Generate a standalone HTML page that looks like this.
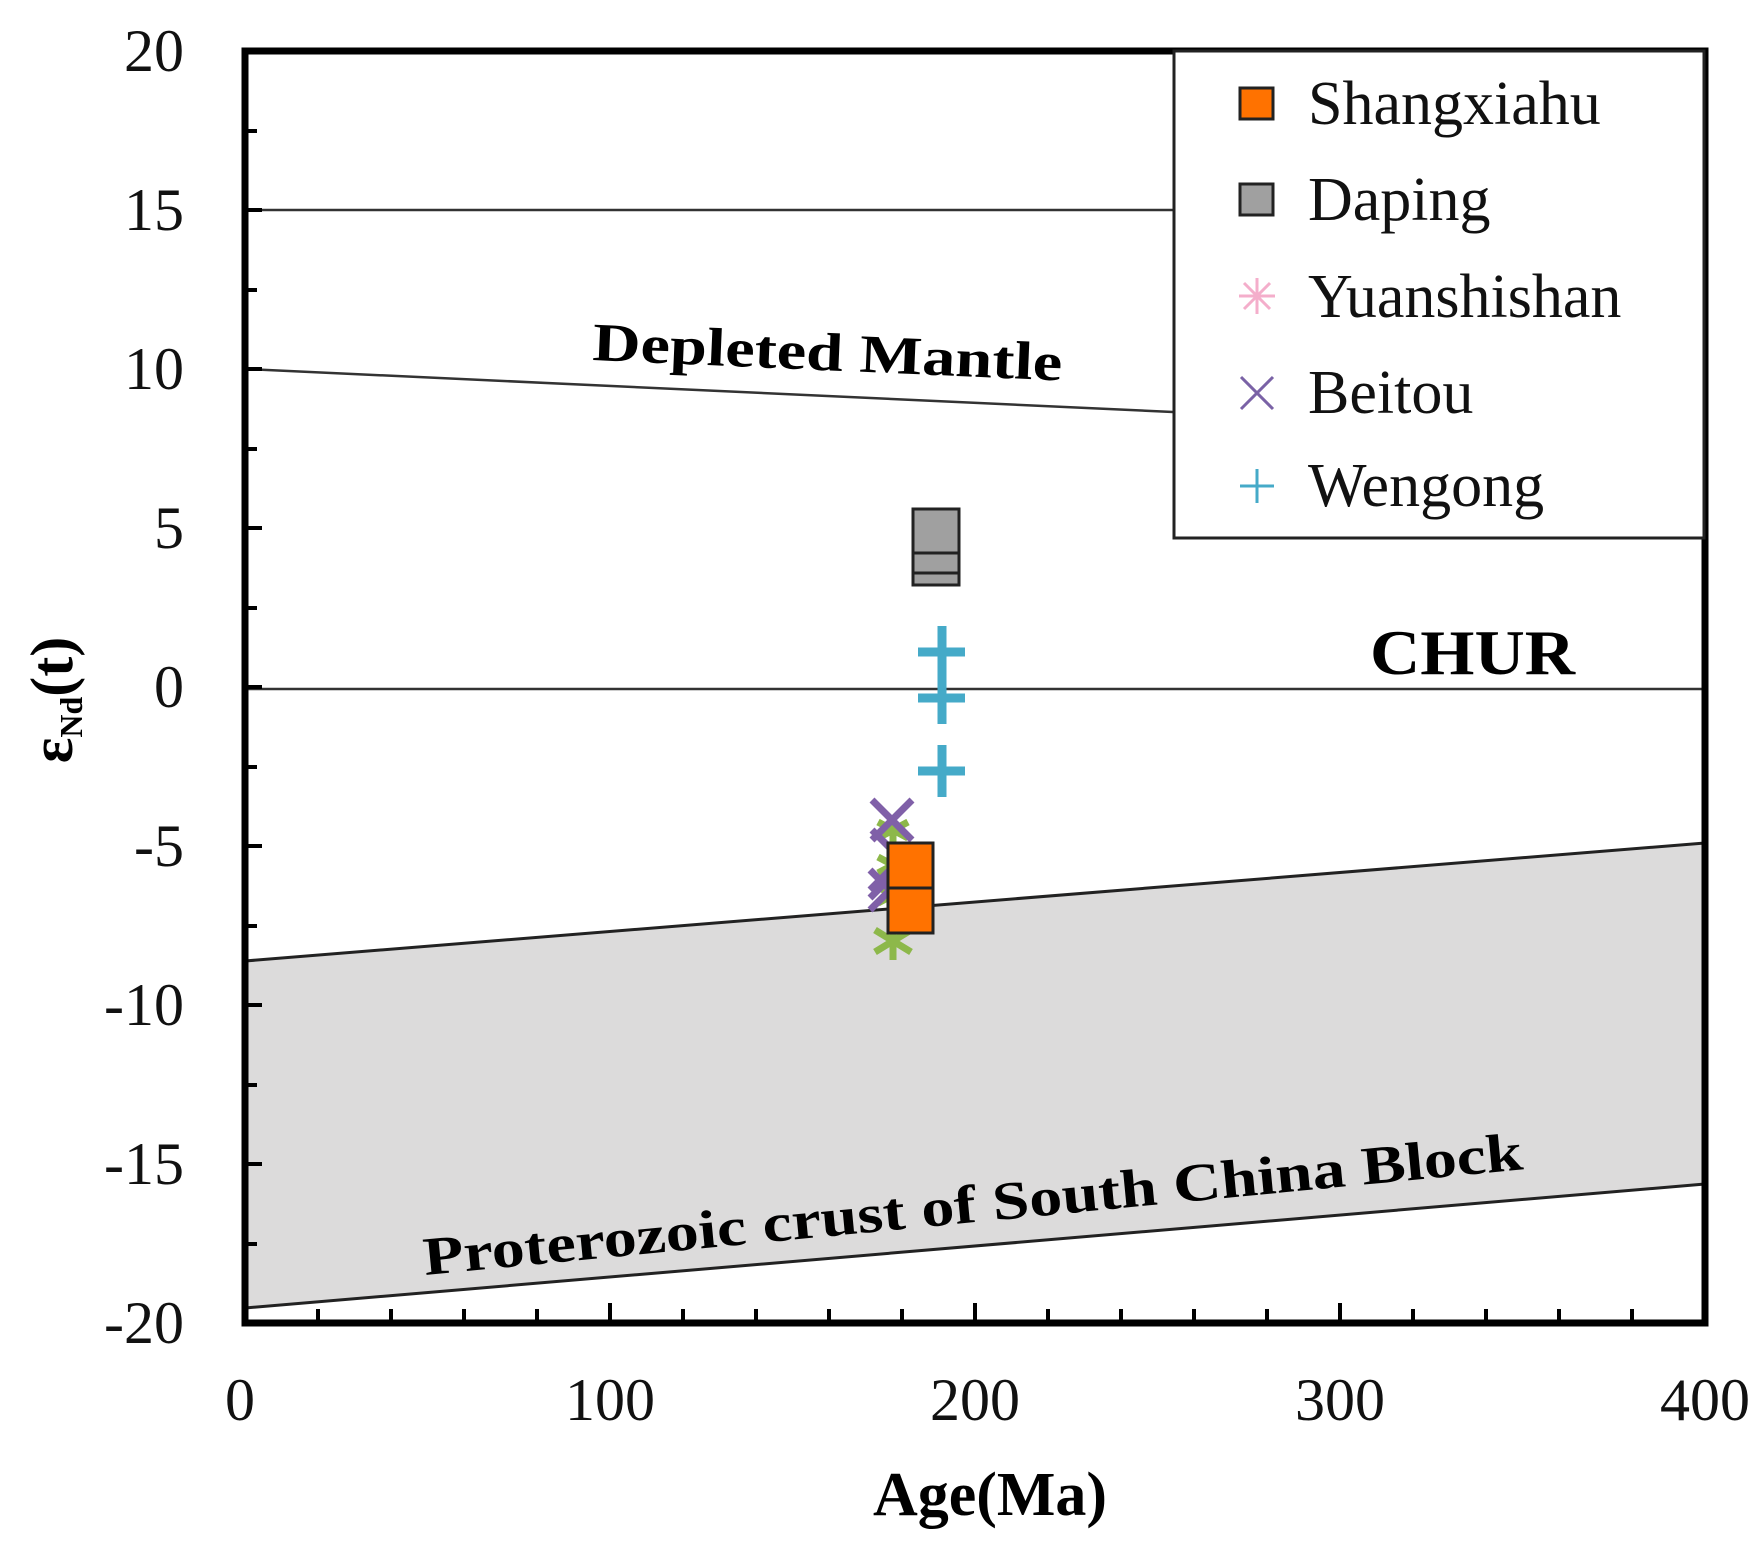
<!DOCTYPE html>
<html><head><meta charset="utf-8"><style>body{margin:0;background:#fff}svg{display:block}</style></head>
<body>
<svg width="1764" height="1542" viewBox="0 0 1764 1542" xmlns="http://www.w3.org/2000/svg" font-family="Liberation Serif, serif">
<polygon points="245,961 1705,843 1705,1184 245,1308" fill="#dcdbdb"/>
<line x1="245" y1="961" x2="1705" y2="843" stroke="#222" stroke-width="3"/>
<line x1="245" y1="1308" x2="1705" y2="1184" stroke="#222" stroke-width="3"/>
<line x1="245" y1="210" x2="1173" y2="210" stroke="#333" stroke-width="2.5"/>
<line x1="245" y1="369" x2="1173" y2="412" stroke="#333" stroke-width="2.5"/>
<line x1="245" y1="689" x2="1705" y2="689" stroke="#333" stroke-width="2.5"/>
<g stroke="#000" stroke-width="4">
<line x1="245" y1="131" x2="257" y2="131"/><line x1="245" y1="210" x2="262" y2="210"/>
<line x1="245" y1="290" x2="257" y2="290"/><line x1="245" y1="369" x2="262" y2="369"/>
<line x1="245" y1="449" x2="257" y2="449"/><line x1="245" y1="528" x2="262" y2="528"/>
<line x1="245" y1="608" x2="257" y2="608"/><line x1="245" y1="687" x2="262" y2="687"/>
<line x1="245" y1="767" x2="257" y2="767"/><line x1="245" y1="846" x2="262" y2="846"/>
<line x1="245" y1="926" x2="257" y2="926"/><line x1="245" y1="1005" x2="262" y2="1005"/>
<line x1="245" y1="1085" x2="257" y2="1085"/><line x1="245" y1="1164" x2="262" y2="1164"/>
<line x1="245" y1="1244" x2="257" y2="1244"/>
</g>
<g stroke="#000" stroke-width="4">
<line x1="318" y1="1323" x2="318" y2="1309"/><line x1="391" y1="1323" x2="391" y2="1309"/>
<line x1="464" y1="1323" x2="464" y2="1309"/><line x1="537" y1="1323" x2="537" y2="1309"/>
<line x1="610" y1="1323" x2="610" y2="1303"/><line x1="683" y1="1323" x2="683" y2="1309"/>
<line x1="756" y1="1323" x2="756" y2="1309"/><line x1="829" y1="1323" x2="829" y2="1309"/>
<line x1="902" y1="1323" x2="902" y2="1309"/><line x1="975" y1="1323" x2="975" y2="1303"/>
<line x1="1048" y1="1323" x2="1048" y2="1309"/><line x1="1121" y1="1323" x2="1121" y2="1309"/>
<line x1="1194" y1="1323" x2="1194" y2="1309"/><line x1="1267" y1="1323" x2="1267" y2="1309"/>
<line x1="1340" y1="1323" x2="1340" y2="1303"/><line x1="1413" y1="1323" x2="1413" y2="1309"/>
<line x1="1486" y1="1323" x2="1486" y2="1309"/><line x1="1559" y1="1323" x2="1559" y2="1309"/>
<line x1="1632" y1="1323" x2="1632" y2="1309"/>
</g>
<rect x="245" y="51" width="1460" height="1272" fill="none" stroke="#000" stroke-width="7"/>
<g font-size="60" text-anchor="end" fill="#111">
<text x="184" y="71">20</text><text x="184" y="230">15</text><text x="184" y="389">10</text>
<text x="184" y="548">5</text><text x="184" y="707">0</text><text x="184" y="866">-5</text>
<text x="184" y="1025">-10</text><text x="184" y="1184">-15</text><text x="184" y="1343">-20</text>
</g>
<g font-size="60" text-anchor="middle" fill="#111">
<text x="240" y="1420">0</text><text x="610" y="1420">100</text><text x="975" y="1420">200</text>
<text x="1340" y="1420">300</text><text x="1705" y="1420">400</text>
</g>
<text x="990" y="1515" font-size="62" font-weight="bold" text-anchor="middle">Age(Ma)</text>
<text transform="translate(72,700) rotate(-90)" font-size="60" font-weight="bold" text-anchor="middle">ε<tspan font-size="32" dy="10">Nd</tspan><tspan dy="-10">(t)</tspan></text>
<text transform="translate(592,360) rotate(2.5)" font-size="54" font-weight="bold" textLength="470" lengthAdjust="spacingAndGlyphs">Depleted  Mantle</text>
<text x="1370" y="674" font-size="64" font-weight="bold" textLength="205" lengthAdjust="spacingAndGlyphs">CHUR</text>
<text transform="translate(425,1275) rotate(-5.5)" font-size="54" font-weight="bold" textLength="1104" lengthAdjust="spacingAndGlyphs">Proterozoic crust  of  South China Block</text>
<g stroke="#8db84a" stroke-width="7" fill="none">
<path d="M893,815v30M878,822l30,16M878,838l30,-16"/>
<path d="M893,850v30M878,857l30,16M878,873l30,-16"/>
<path d="M893,880v30M878,887l30,16M878,903l30,-16"/>
<path d="M893,925v35M875,930l36,22M875,952l36,-22"/>
</g>
<g stroke="#8060a8" stroke-width="7" fill="none">
<path d="M872,800l40,40M912,800l-40,40"/>
<path d="M872,830l30,30"/>
<path d="M870,870l20,20M890,870l-20,20"/>
<path d="M870,898l25,-25M870,910l20,-20"/>
</g>
<g stroke="#45aac8" stroke-width="9" fill="none">
<path d="M942,626v52M918,652h47"/>
<path d="M942,672v52M918,698h47"/>
<path d="M942,745v52M918,771h47"/>
</g>
<rect x="913" y="509" width="46" height="76" fill="#a0a0a0" stroke="#222" stroke-width="3"/>
<line x1="913" y1="553" x2="959" y2="553" stroke="#222" stroke-width="3"/>
<line x1="913" y1="573" x2="959" y2="573" stroke="#222" stroke-width="3"/>
<rect x="888" y="843" width="45" height="90" fill="#ff7200" stroke="#222" stroke-width="3"/>
<line x1="888" y1="888" x2="933" y2="888" stroke="#222" stroke-width="3"/>
<rect x="1174" y="51" width="530" height="487" fill="#fff" stroke="#222" stroke-width="3"/>
<rect x="1240" y="88" width="33" height="31" fill="#ff7200" stroke="#222" stroke-width="3"/>
<rect x="1240" y="184" width="33" height="31" fill="#a0a0a0" stroke="#222" stroke-width="3"/>
<g stroke="#f4aecb" stroke-width="3"><path d="M1257,278v36M1239,296h36M1244,283l26,26M1270,283l-26,26"/></g>
<g stroke="#7a62a6" stroke-width="3"><path d="M1241,377l32,32M1273,377l-32,32"/></g>
<g stroke="#45aac8" stroke-width="3"><path d="M1257,469v34M1240,486h34"/></g>
<g font-size="62" fill="#111">
<text x="1308" y="124">Shangxiahu</text>
<text x="1308" y="220">Daping</text>
<text x="1308" y="317">Yuanshishan</text>
<text x="1308" y="413">Beitou</text>
<text x="1308" y="506">Wengong</text>
</g>
</svg>
</body></html>
